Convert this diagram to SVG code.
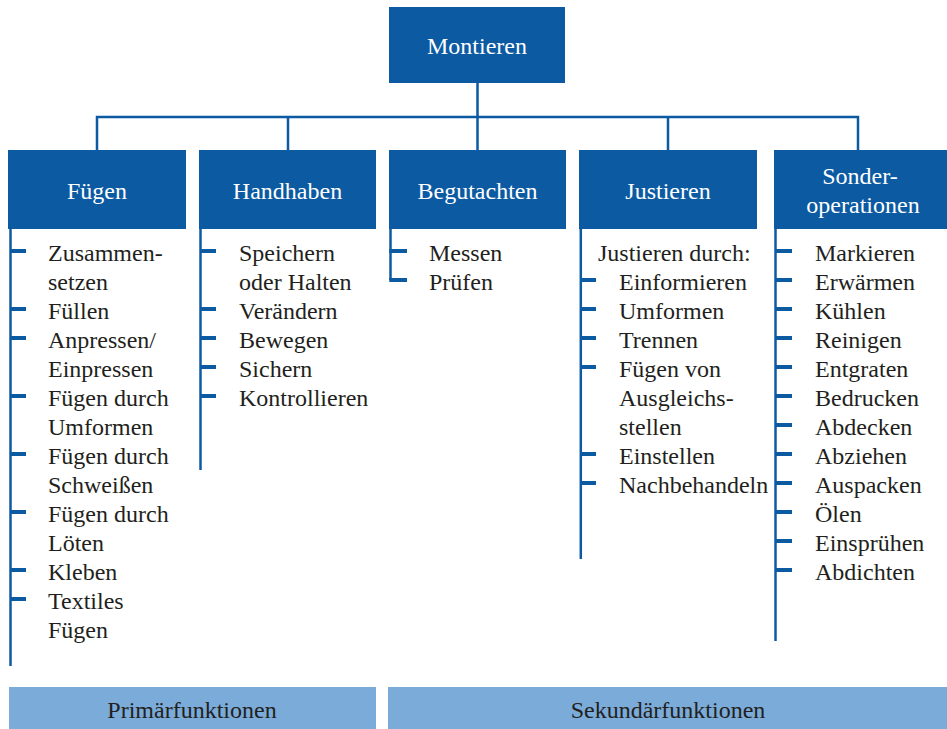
<svg xmlns="http://www.w3.org/2000/svg" width="947" height="729" viewBox="0 0 947 729">
<defs>
<path id="tick" d="M0 0 H16" stroke="#0b5aa2" stroke-width="4"/>
</defs>
<rect width="947" height="729" fill="#ffffff"/>
<g id="connectors" stroke="#0b5aa2" stroke-width="2.5" fill="none">
<path d="M477.5 83 V117 M97 150 V117 H858 V150 M288 117 V150 M477.5 117 V150 M668 117 V150"/>
</g>
<g id="montieren">
<rect fill="#0b5aa2" x="389" y="7" width="176" height="76"/>
<text x="477" y="54" font-family="Liberation Serif" font-size="24" fill="#ffffff" text-anchor="middle">Montieren</text>
</g>
<g id="fuegen">
<rect fill="#0b5aa2" x="8" y="150" width="178" height="79"/>
<text x="97" y="199" font-family="Liberation Serif" font-size="24" fill="#ffffff" text-anchor="middle">Fügen</text>
<path d="M10.5 229 V666" stroke="#0b5aa2" stroke-width="2.5"/>
<path d="M10 251 H26 M10 309 H26 M10 338 H26 M10 396 H26 M10 454 H26 M10 512 H26 M10 570 H26 M10 599 H26" stroke="#0b5aa2" stroke-width="4"/>
<text font-family="Liberation Serif" font-size="24" fill="#231f20">
<tspan x="48" y="260.5">Zusammen-</tspan>
<tspan x="48" y="289.5">setzen</tspan>
<tspan x="48" y="318.5">Füllen</tspan>
<tspan x="48" y="347.5">Anpressen/</tspan>
<tspan x="48" y="376.5">Einpressen</tspan>
<tspan x="48" y="405.5">Fügen durch</tspan>
<tspan x="48" y="434.5">Umformen</tspan>
<tspan x="48" y="463.5">Fügen durch</tspan>
<tspan x="48" y="492.5">Schweißen</tspan>
<tspan x="48" y="521.5">Fügen durch</tspan>
<tspan x="48" y="550.5">Löten</tspan>
<tspan x="48" y="579.5">Kleben</tspan>
<tspan x="48" y="608.5">Textiles</tspan>
<tspan x="48" y="637.5">Fügen</tspan>
</text>
</g>
<g id="handhaben">
<rect fill="#0b5aa2" x="199" y="150" width="177" height="79"/>
<text x="287.5" y="199" font-family="Liberation Serif" font-size="24" fill="#ffffff" text-anchor="middle">Handhaben</text>
<path d="M200.5 229 V470" stroke="#0b5aa2" stroke-width="2.5"/>
<path d="M200 251 H216 M200 309 H216 M200 338 H216 M200 367 H216 M200 396 H216" stroke="#0b5aa2" stroke-width="4"/>
<text font-family="Liberation Serif" font-size="24" fill="#231f20">
<tspan x="239" y="260.5">Speichern</tspan>
<tspan x="239" y="289.5">oder Halten</tspan>
<tspan x="239" y="318.5">Verändern</tspan>
<tspan x="239" y="347.5">Bewegen</tspan>
<tspan x="239" y="376.5">Sichern</tspan>
<tspan x="239" y="405.5">Kontrollieren</tspan>
</text>
</g>
<g id="begutachten">
<rect fill="#0b5aa2" x="389" y="150" width="177" height="79"/>
<text x="477.5" y="199" font-family="Liberation Serif" font-size="24" fill="#ffffff" text-anchor="middle">Begutachten</text>
<path d="M390.5 229 V280" stroke="#0b5aa2" stroke-width="2.5"/>
<path d="M389.3 251 H407 M389.3 280 H407" stroke="#0b5aa2" stroke-width="4"/>
<text font-family="Liberation Serif" font-size="24" fill="#231f20">
<tspan x="429" y="260.5">Messen</tspan>
<tspan x="429" y="289.5">Prüfen</tspan>
</text>
</g>
<g id="justieren">
<rect fill="#0b5aa2" x="579" y="150" width="178" height="79"/>
<text x="668" y="199" font-family="Liberation Serif" font-size="24" fill="#ffffff" text-anchor="middle">Justieren</text>
<path d="M580.8 229 V559" stroke="#0b5aa2" stroke-width="2.5"/>
<path d="M580 280 H596 M580 309 H596 M580 338 H596 M580 367 H596 M580 454 H596 M580 483 H596" stroke="#0b5aa2" stroke-width="4"/>
<text font-family="Liberation Serif" font-size="24" fill="#231f20">
<tspan x="598" y="260.5">Justieren durch:</tspan>
<tspan x="619" y="289.5">Einformieren</tspan>
<tspan x="619" y="318.5">Umformen</tspan>
<tspan x="619" y="347.5">Trennen</tspan>
<tspan x="619" y="376.5">Fügen von</tspan>
<tspan x="619" y="405.5">Ausgleichs-</tspan>
<tspan x="619" y="434.5">stellen</tspan>
<tspan x="619" y="463.5">Einstellen</tspan>
<tspan x="619" y="492.5">Nachbehandeln</tspan>
</text>
</g>
<g id="sonderoperationen">
<rect fill="#0b5aa2" x="774" y="150" width="173" height="79"/>
<text font-family="Liberation Serif" font-size="24" fill="#ffffff" text-anchor="middle">
<tspan x="863" y="184">Sonder-</tspan>
<tspan x="863" y="213">operationen</tspan>
</text>
<path d="M775.5 229 V641" stroke="#0b5aa2" stroke-width="2.5"/>
<path d="M775 251 H792 M775 280 H792 M775 309 H792 M775 338 H792 M775 367 H792 M775 396 H792 M775 425 H792 M775 454 H792 M775 483 H792 M775 512 H792 M775 541 H792 M775 570 H792" stroke="#0b5aa2" stroke-width="4"/>
<text font-family="Liberation Serif" font-size="24" fill="#231f20">
<tspan x="815" y="260.5">Markieren</tspan>
<tspan x="815" y="289.5">Erwärmen</tspan>
<tspan x="815" y="318.5">Kühlen</tspan>
<tspan x="815" y="347.5">Reinigen</tspan>
<tspan x="815" y="376.5">Entgraten</tspan>
<tspan x="815" y="405.5">Bedrucken</tspan>
<tspan x="815" y="434.5">Abdecken</tspan>
<tspan x="815" y="463.5">Abziehen</tspan>
<tspan x="815" y="492.5">Auspacken</tspan>
<tspan x="815" y="521.5">Ölen</tspan>
<tspan x="815" y="550.5">Einsprühen</tspan>
<tspan x="815" y="579.5">Abdichten</tspan>
</text>
</g>
<g id="primaerfunktionen">
<rect fill="#7aabd9" x="9" y="687" width="367" height="42"/>
<text x="192" y="718" font-family="Liberation Serif" font-size="24" fill="#231f20" text-anchor="middle">Primärfunktionen</text>
</g>
<g id="sekundaerfunktionen">
<rect fill="#7aabd9" x="388" y="687" width="559" height="42"/>
<text x="668" y="718" font-family="Liberation Serif" font-size="24" fill="#231f20" text-anchor="middle">Sekundärfunktionen</text>
</g>
</svg>
